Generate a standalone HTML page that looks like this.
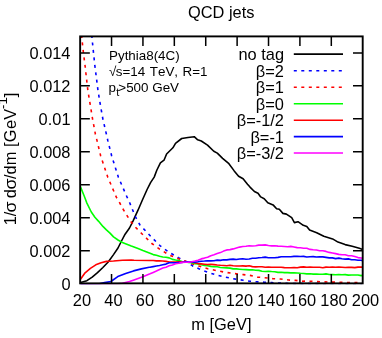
<!DOCTYPE html>
<html><head><meta charset="utf-8"><title>QCD jets</title>
<style>
html,body{margin:0;padding:0;background:#fff;}
body{width:382px;height:338px;position:relative;overflow:hidden;font-family:"Liberation Sans",sans-serif;color:#000;}
.t{position:absolute;white-space:nowrap;font-kerning:none;filter:grayscale(1);font-size:16.4px;line-height:16px;}
.r{text-align:right;}
.c{text-align:center;}
.s{font-size:13.4px;}
</style></head><body>
<svg width="382" height="338" viewBox="0 0 382 338" style="position:absolute;left:0;top:0">
<defs><clipPath id="c"><rect x="79.65" y="35.9" width="283.54999999999995" height="248.35000000000002"/></clipPath></defs>
<g clip-path="url(#c)" fill="none" stroke-width="1.6" stroke-linejoin="round">
<path d="M80.5,282.6 L86.9,280.7 L92.2,277.1 L97.5,272.7 L102.9,267.5 L108.2,262.0 L113.5,254.6 L118.0,248.0 L121.5,241.0 L125.1,234.2 L129.5,228.0 L133.1,220.9 L138.0,210.2 L142.4,200.0 L147.1,189.5 L150.7,182.4 L154.2,177.1 L156.9,170.0 L160.4,162.9 L164.0,160.2 L166.6,154.0 L172.9,147.8 L175.5,143.3 L181.7,138.5 L188.0,137.5 L194.2,136.7 L197.7,139.8 L201.3,141.0 L207.5,145.1 L213.8,151.3 L217.3,153.1 L222.6,158.4 L228.9,163.7 L234.2,170.9 L238.6,176.2 L243.1,178.8 L247.5,184.2 L250.0,187.1 L254.4,191.5 L258.0,193.3 L260.7,196.9 L264.2,198.7 L267.8,202.7 L273.1,204.9 L276.6,208.8 L279.3,209.3 L282.9,213.4 L286.4,214.1 L291.7,217.7 L294.4,222.6 L298.0,221.7 L303.3,225.3 L306.8,226.5 L309.6,230.0 L316.7,232.7 L323.8,236.2 L332.6,238.9 L338.0,242.1 L345.1,244.6 L352.2,246.3 L359.3,248.3 L362.7,249.4" stroke="#000000" />
<path d="M91.7,35.0 L93.4,51.8 L94.9,66.0 L96.7,80.2 L97.9,89.8 L100.2,104.0 L102.9,119.1 L106.4,134.2 L107.9,140.9 L111.7,156.0 L118.4,177.3 L127.3,197.7 L129.8,203.0 L135.2,216.3 L140.0,225.0 L145.5,230.8 L151.8,237.5 L160.6,246.2 L169.5,252.5 L178.4,257.7 L187.3,262.3 L192.6,265.9 L198.9,268.8 L207.8,272.3 L216.6,275.0 L225.5,277.1 L234.4,278.9 L243.3,280.3 L250.0,281.2 L256.7,281.8 L264.6,282.2 L271.8,282.6 L279.7,283.1 L286.9,283.4 L294.0,283.6 L330.0,283.7 L362.0,283.7" stroke="#0000ff" stroke-dasharray="3 4.5"/>
<path d="M81.5,35.0 L83.3,51.8 L85.1,66.0 L86.9,82.0 L87.8,89.8 L90.1,104.0 L92.6,119.1 L95.4,134.2 L97.1,140.9 L100.7,156.0 L107.8,177.3 L116.6,197.7 L119.8,203.0 L123.3,209.5 L130.0,220.5 L135.2,227.0 L141.1,233.0 L151.8,243.5 L160.6,249.8 L169.5,255.1 L178.4,258.7 L187.3,261.9 L190.0,263.0 L198.9,266.1 L207.8,268.8 L216.6,270.6 L225.5,272.3 L234.4,273.6 L243.3,274.6 L250.0,275.4 L257.5,277.1 L264.6,277.7 L272.6,278.6 L280.6,279.0 L288.6,280.0 L295.7,280.4 L302.8,281.2 L306.0,281.1 L317.5,281.6 L332.6,282.1 L347.7,282.5 L362.0,282.7" stroke="#ff0000" stroke-dasharray="3 4.5"/>
<path d="M80.4,186.6 L84.2,196.0 L86.9,203.1 L91.3,212.0 L94.9,217.3 L98.4,221.1 L102.9,226.4 L106.4,229.9 L110.0,233.1 L113.5,236.9 L118.0,240.0 L122.4,242.5 L126.8,244.3 L131.3,246.1 L134.0,247.0 L138.0,248.6 L142.9,250.6 L150.0,253.3 L153.2,254.6 L156.4,255.3 L159.6,256.3 L162.8,257.0 L166.0,257.3 L169.2,257.9 L172.4,259.4 L175.6,260.0 L178.8,260.5 L182.0,261.6 L185.2,261.8 L188.4,262.5 L191.6,262.8 L194.8,263.6 L198.0,263.9 L201.2,264.8 L204.4,265.5 L207.6,265.8 L210.8,266.4 L214.0,266.8 L217.2,266.8 L220.4,267.5 L223.6,267.8 L226.8,267.9 L230.0,268.1 L233.2,268.9 L236.4,268.9 L239.6,269.2 L242.8,269.5 L246.0,269.6 L249.2,269.9 L252.4,269.8 L255.6,270.3 L258.8,270.4 L262.0,271.2 L265.2,271.5 L268.4,271.2 L271.6,271.5 L274.8,271.7 L278.0,272.4 L281.2,272.2 L284.4,272.6 L287.6,272.6 L290.8,272.9 L294.0,272.9 L297.2,273.0 L300.4,273.3 L303.6,273.5 L306.8,273.9 L310.0,273.8 L313.2,274.1 L316.4,274.1 L319.6,274.3 L322.8,274.2 L326.0,273.9 L329.2,274.5 L332.4,274.6 L335.6,274.7 L338.8,274.6 L342.0,274.8 L345.2,274.6 L348.4,275.1 L351.6,275.0 L354.8,275.0 L358.0,275.0 L361.2,275.6 L362.0,275.4" stroke="#00ff00" />
<path d="M80.5,279.2 L85.1,272.8 L90.4,268.3 L95.8,264.8 L101.1,262.7 L106.4,261.4 L113.5,261.0 L122.4,260.3 L131.3,260.0 L134.0,260.3 L150.0,260.5 L153.2,260.5 L156.4,260.9 L159.6,260.9 L162.8,261.0 L166.0,261.4 L169.2,262.0 L172.4,262.0 L175.6,262.1 L178.8,261.8 L182.0,262.1 L185.2,262.0 L188.4,262.0 L191.6,262.2 L194.8,262.7 L198.0,263.6 L201.2,263.9 L204.4,264.2 L207.6,264.5 L210.8,264.3 L214.0,264.6 L217.2,265.0 L220.4,265.3 L223.6,265.5 L226.8,265.7 L230.0,265.3 L233.2,265.8 L236.4,266.0 L239.6,266.0 L242.8,265.9 L246.0,266.1 L249.2,265.8 L252.4,266.6 L255.6,266.9 L258.8,266.8 L262.0,266.8 L265.2,267.3 L268.4,267.0 L271.6,267.2 L274.8,267.3 L278.0,267.2 L281.2,267.3 L284.4,267.6 L287.6,267.7 L290.8,267.7 L294.0,267.6 L297.2,267.7 L300.4,267.1 L303.6,266.9 L306.8,267.2 L310.0,267.0 L313.2,267.3 L316.4,267.3 L319.6,267.3 L322.8,267.7 L326.0,267.1 L329.2,267.2 L332.4,267.0 L335.6,267.3 L338.8,267.1 L342.0,267.2 L345.2,267.5 L348.4,267.3 L351.6,267.4 L354.8,267.6 L358.0,267.1 L361.2,267.0 L362.7,267.3" stroke="#ff0000" />
<path d="M80.5,283.9 L99.3,283.7 L104.6,282.6 L110.9,281.5 L117.8,276.6 L125.7,273.5 L133.5,270.9 L141.4,268.9 L149.2,267.3 L150.0,267.2 L153.2,266.6 L156.4,266.0 L159.6,265.5 L162.8,264.7 L166.0,264.1 L169.2,262.7 L172.4,262.7 L175.6,262.9 L178.8,262.6 L182.0,262.5 L185.2,261.7 L188.4,261.8 L191.6,261.9 L194.8,262.1 L198.0,261.8 L201.2,261.2 L204.4,261.0 L207.6,260.7 L210.8,260.9 L214.0,260.7 L217.2,260.1 L220.4,260.4 L223.6,259.8 L226.8,259.9 L230.0,259.4 L233.2,259.1 L236.4,259.5 L239.6,259.0 L242.8,258.8 L246.0,259.2 L249.2,259.0 L252.4,258.3 L255.6,258.3 L258.8,257.7 L262.0,257.5 L265.2,257.1 L268.4,257.7 L271.6,257.7 L274.8,257.7 L278.0,257.4 L281.2,256.8 L284.4,256.8 L287.6,256.7 L290.8,256.7 L294.0,256.4 L297.2,256.4 L300.4,256.5 L303.6,256.4 L306.8,257.0 L310.0,256.7 L313.2,256.6 L316.4,257.0 L319.6,256.9 L322.8,256.9 L326.0,257.4 L329.2,257.9 L332.4,257.9 L335.6,258.6 L338.8,258.1 L342.0,258.7 L345.2,259.1 L348.4,258.9 L351.6,259.7 L354.8,259.8 L358.0,260.2 L361.2,260.2 L362.7,260.7" stroke="#0000ff" />
<path d="M80.5,283.9 L118.0,283.8 L122.4,283.2 L129.5,281.5 L134.0,279.9 L142.9,276.7 L150.0,273.8 L153.2,272.4 L156.4,271.0 L159.6,269.5 L162.8,268.1 L166.0,267.2 L169.2,265.8 L172.4,265.0 L175.6,263.8 L178.8,263.2 L182.0,262.4 L185.2,262.3 L188.4,262.1 L191.6,261.7 L194.8,261.0 L198.0,260.2 L201.2,258.9 L204.4,258.1 L207.6,257.2 L210.8,255.7 L214.0,254.8 L217.2,253.6 L220.4,252.6 L223.6,251.1 L226.8,249.9 L230.0,249.6 L233.2,248.9 L236.4,248.0 L239.6,247.1 L242.8,246.5 L246.0,246.3 L249.2,245.7 L252.4,246.0 L255.6,245.7 L258.8,245.1 L262.0,245.1 L265.2,244.9 L268.4,245.5 L271.6,245.9 L274.8,245.8 L278.0,246.1 L281.2,246.3 L284.4,246.5 L287.6,246.8 L290.8,246.4 L294.0,247.0 L297.2,247.6 L300.4,247.8 L303.6,248.2 L306.8,248.3 L310.0,249.4 L313.2,249.8 L316.4,250.0 L319.6,250.7 L322.8,250.8 L326.0,251.4 L329.2,252.4 L332.4,253.0 L335.6,253.6 L338.8,254.4 L342.0,254.8 L345.2,254.8 L348.4,255.7 L351.6,255.7 L354.8,256.6 L358.0,257.6 L361.2,258.0 L362.7,258.2" stroke="#ff00ff" />
</g>
<g stroke="#000" stroke-width="1.5" fill="none">
<rect x="80.15" y="36.4" width="282.54999999999995" height="246.95000000000002" stroke-width="1.9"/>
<path d="M111.54,283.75 v-9.7 M111.54,36.4 v9.7"/>
<path d="M142.94,283.75 v-9.7 M142.94,36.4 v9.7"/>
<path d="M174.33,283.75 v-9.7 M174.33,36.4 v9.7"/>
<path d="M205.73,283.75 v-9.7 M205.73,36.4 v9.7"/>
<path d="M237.12,283.75 v-9.7 M237.12,36.4 v9.7"/>
<path d="M268.52,283.75 v-9.7 M268.52,36.4 v9.7"/>
<path d="M299.91,283.75 v-9.7 M299.91,36.4 v9.7"/>
<path d="M331.31,283.75 v-9.7 M331.31,36.4 v9.7"/>
<path d="M80.15,250.77 h9.7 M362.7,250.77 h-9.7"/>
<path d="M80.15,217.79 h9.7 M362.7,217.79 h-9.7"/>
<path d="M80.15,184.81 h9.7 M362.7,184.81 h-9.7"/>
<path d="M80.15,151.83 h9.7 M362.7,151.83 h-9.7"/>
<path d="M80.15,118.85 h9.7 M362.7,118.85 h-9.7"/>
<path d="M80.15,85.87 h9.7 M362.7,85.87 h-9.7"/>
<path d="M80.15,52.89 h9.7 M362.7,52.89 h-9.7"/>
</g>
<g stroke-width="1.6" fill="none">
<path d="M293.8,54.1 H343" stroke="#000" />
<path d="M293.8,70.7 H343" stroke="#00f" stroke-dasharray="3 4.5"/>
<path d="M293.8,87.2 H343" stroke="#f00" stroke-dasharray="3 4.5"/>
<path d="M293.8,103.7 H343" stroke="#0f0" />
<path d="M293.8,120.2 H343" stroke="#f00" />
<path d="M293.8,136.6 H343" stroke="#00f" />
<path d="M293.8,153.0 H343" stroke="#f0f" />
</g>
</svg>
<div class="t c" style="left:171.2px;top:4.4px;width:100px;">QCD jets</div>
<div class="t r" style="left:0;width:70.5px;top:276.1px;">0</div>
<div class="t r" style="left:0;width:70.5px;top:243.2px;">0.002</div>
<div class="t r" style="left:0;width:70.5px;top:210.2px;">0.004</div>
<div class="t r" style="left:0;width:70.5px;top:177.2px;">0.006</div>
<div class="t r" style="left:0;width:70.5px;top:144.2px;">0.008</div>
<div class="t r" style="left:0;width:70.5px;top:111.3px;">0.01</div>
<div class="t r" style="left:0;width:70.5px;top:78.3px;">0.012</div>
<div class="t r" style="left:0;width:70.5px;top:45.3px;">0.014</div>
<div class="t c" style="left:51.9px;width:60px;top:292.1px;">20</div>
<div class="t c" style="left:83.4px;width:60px;top:292.1px;">40</div>
<div class="t c" style="left:114.9px;width:60px;top:292.1px;">60</div>
<div class="t c" style="left:146.4px;width:60px;top:292.1px;">80</div>
<div class="t c" style="left:177.9px;width:60px;top:292.1px;">100</div>
<div class="t c" style="left:209.4px;width:60px;top:292.1px;">120</div>
<div class="t c" style="left:240.9px;width:60px;top:292.1px;">140</div>
<div class="t c" style="left:272.5px;width:60px;top:292.1px;">160</div>
<div class="t c" style="left:304.0px;width:60px;top:292.1px;">180</div>
<div class="t c" style="left:335.5px;width:60px;top:292.1px;">200</div>
<div class="t c" style="left:171.4px;width:100px;top:315.5px;">m [GeV]</div>
<div class="t c" style="left:-89.5px;top:149.95px;width:200px;transform:rotate(-90deg);transform-origin:50% 50%;">1/<span style="display:inline-block;transform:scaleX(1.08);transform-origin:50% 50%;">σ</span><span style="margin-left:-1.3px;"> </span>d<span style="display:inline-block;transform:scaleX(1.08);transform-origin:50% 50%;">σ</span>/dm <span style="letter-spacing:0.4px;">[G</span>eV<span style="font-size:13.1px;position:relative;top:-8.9px;">-1</span>]</div>
<div class="t r" style="left:184px;width:100px;top:46.1px;">no tag</div>
<div class="t r" style="left:184px;width:100px;top:62.7px;"><span style="display:inline-block;transform:scaleX(1.0);transform-origin:100% 50%;">β</span>=2</div>
<div class="t r" style="left:184px;width:100px;top:79.2px;"><span style="display:inline-block;transform:scaleX(1.0);transform-origin:100% 50%;">β</span>=1</div>
<div class="t r" style="left:184px;width:100px;top:95.7px;"><span style="display:inline-block;transform:scaleX(1.0);transform-origin:100% 50%;">β</span>=0</div>
<div class="t r" style="left:184px;width:100px;top:112.2px;"><span style="display:inline-block;transform:scaleX(1.0);transform-origin:100% 50%;">β</span>=-1/2</div>
<div class="t r" style="left:184px;width:100px;top:128.6px;"><span style="display:inline-block;transform:scaleX(1.0);transform-origin:100% 50%;">β</span>=-1</div>
<div class="t r" style="left:184px;width:100px;top:145.0px;"><span style="display:inline-block;transform:scaleX(1.0);transform-origin:100% 50%;">β</span>=-3/2</div>
<div class="t s" style="left:109px;top:47.8px;">Pythia8(4C)</div>
<div class="t s" style="left:109px;top:64.1px;"><span style="word-spacing:0.8px;"><span style="letter-spacing:-0.5px;">√</span>s=14 TeV, R=1</span></div>
<div class="t s" style="left:108.5px;top:79.6px;">p<span style="font-size:11px;position:relative;top:4px;left:0.4px;margin-right:-0.7px;">t</span>&gt;500 GeV</div>
</body></html>
